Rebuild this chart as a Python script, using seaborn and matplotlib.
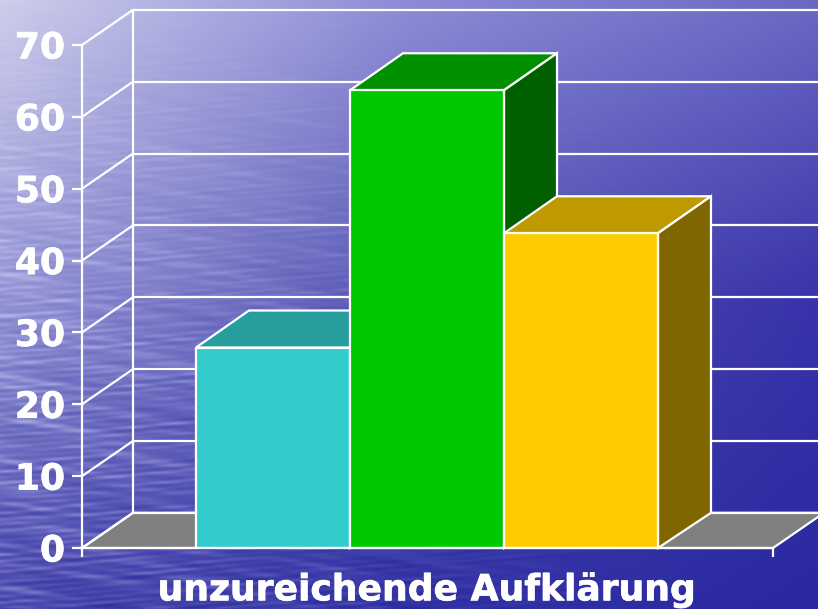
import numpy as np
import pandas as pd
import matplotlib
matplotlib.use('Agg')
import matplotlib.pyplot as plt
import matplotlib.patheffects as path_effects
from matplotlib.patches import Polygon
import seaborn as sns

# andmed
kategooria = ["unzureichende Aufklärung"]
seeriad = ["Reihe 1", "Reihe 2", "Reihe 3"]
vaartused = [27.9, 63.7, 43.8]
y_ticks = [0, 10, 20, 30, 40, 50, 60, 70]

# varvid: esikulg, pealmine, kulg
esi_varvid = ["#33cccc", "#00c800", "#ffcc00"]
peal_varvid = ["#269e9e", "#009000", "#bf9900"]
kulg_varvid = ["#1a6666", "#006000", "#806600"]

W, H = 818, 609
DEPTH_X = 53 / 154       # tulba sugavus x-teljel
DEPTH_X_WALL = 51 / 154  # tagaseina nihe
DEPTH_Y = 4.9            # 3D sugavus y-teljel
DEPTH_Y_TOP = 5.15       # tulba ulemine serv
VALGE = "white"
JOON = 1.6


def drawBackground(fig):
    # taust: sinine gradient ja vee moodi laigud
    bg = fig.add_axes([0, 0, 1, 1], zorder=0)
    x = np.arange(W) / (W - 1)
    y = np.arange(H) / (H - 1)
    xx, yy = np.meshgrid(x, y)
    grid_x = [0, 0.5, 1]
    grid_y = [0, 0.5, 1]
    nurgad = np.array([
        [[205, 205, 235], [140, 140, 215], [105, 105, 195]],
        [[150, 150, 215], [85, 85, 180], [55, 50, 170]],
        [[75, 75, 175], [50, 50, 165], [42, 40, 160]],
    ], dtype=float)
    img = np.zeros((H, W, 3))
    for c in range(3):
        rows = np.array([np.interp(x, grid_x, nurgad[r, :, c]) for r in range(3)])
        for col in range(W):
            img[:, col, c] = np.interp(y, grid_y, rows[:, col])
    px, py = xx * W, yy * H
    s = np.zeros_like(px)
    for fy, fx, faas in [(0.41, 0.047, 0.3), (0.67, 0.073, 1.9), (0.29, 0.037, 3.1),
                         (0.83, 0.101, 4.4), (0.53, 0.059, 5.2), (0.97, 0.087, 2.5)]:
        s += np.sin(py * fy + faas + 1.4 * np.sin(px * 0.019 + faas)) * np.sin(px * fx + py * 0.23 + faas * 2)
    s = np.where(s > 0, s * 1.3, s * 0.7)
    kaal = np.clip(1 - xx / 0.8, 0, 1) * np.clip(yy * 1.6 - 0.05, 0.05, 1)
    img = img + (s * 10 * kaal)[:, :, None] * np.array([1, 1, 0.6])
    bg.imshow(np.clip(img, 0, 255) / 255, aspect="auto", interpolation="bilinear")
    bg.set_axis_off()


def drawWalls(ax):
    x0, x1 = ax.get_xlim()
    dx, dy = DEPTH_X_WALL, DEPTH_Y
    # poranda hall tahk
    ax.add_patch(Polygon([(x0, 0), (x0 + dx, dy), (x1 + dx, dy), (x1, 0)], closed=True,
                         facecolor="#808080", edgecolor=VALGE, linewidth=JOON,
                         clip_on=False, zorder=1))
    for v in y_ticks:
        ax.plot([x0, x0 + dx], [v, v + dy], color=VALGE, lw=JOON, clip_on=False, zorder=2)
        ax.plot([x0 + dx, x1 + dx], [v + dy, v + dy], color=VALGE, lw=JOON, clip_on=False, zorder=2)
    ax.plot([x0 + dx, x0 + dx], [dy, y_ticks[-1] + dy], color=VALGE, lw=JOON, clip_on=False, zorder=2)


def drawBarFaces(ax):
    # igale tulbale pealmine ja kulgmine tahk
    dx, dy, dt = DEPTH_X, DEPTH_Y, DEPTH_Y_TOP
    tulbad = sorted([b for cont in ax.containers for b in cont if b.get_height() > 0],
                    key=lambda p: p.get_x())
    for i, bar in enumerate(tulbad):
        xa = bar.get_x()
        xb = xa + bar.get_width()
        h = bar.get_height()
        bar.set_zorder(3.5 + i)
        ax.add_patch(Polygon([(xa, h), (xa + dx, h + dt), (xb + dx, h + dt), (xb, h)], closed=True,
                             facecolor=peal_varvid[i], edgecolor=VALGE, linewidth=JOON,
                             clip_on=False, zorder=3 + i))
        ax.add_patch(Polygon([(xb, 0), (xb + dx, dy), (xb + dx, h + dt), (xb, h)], closed=True,
                             facecolor=kulg_varvid[i], edgecolor=VALGE, linewidth=JOON,
                             clip_on=False, zorder=3 + i))


def main():
    sns.set_style("white")
    plt.rcParams['font.family'] = ['DejaVu Sans']
    fig = plt.figure(figsize=(W / 100, H / 100), dpi=100)
    drawBackground(fig)

    # telg pikslites: x 82..773, y 45..548
    ax = fig.add_axes([82 / W, 1 - 548 / H, 691 / W, 503 / H], zorder=1)
    ax.patch.set_alpha(0)
    df = pd.DataFrame({
        "kategooria": kategooria * len(seeriad),
        "seeria": seeriad,
        "vaartus": vaartused,
    })
    sns.barplot(data=df, x="kategooria", y="vaartus", hue="seeria", palette=esi_varvid,
                width=3, saturation=1, edgecolor=VALGE, linewidth=JOON, legend=False, ax=ax)

    pool = 691 / 2 / 154
    nihe = 0.5 / 154  # pool pikslit vasakule
    ax.set_xlim(-pool + nihe, pool + nihe)
    ax.set_ylim(0, 70)
    ax.set_xlabel("")
    ax.set_ylabel("")
    ax.set_yticks(y_ticks)
    ax.set_yticklabels([str(v) for v in y_ticks], color=VALGE, fontsize=26, fontweight="bold")
    ax.set_xticks([0])
    ax.set_xticklabels(kategooria, color=VALGE, fontsize=26, fontweight="bold")
    ax.set_xticks([-pool + nihe, pool + nihe], minor=True)
    ax.tick_params(axis="y", left=True, length=7.2, width=JOON, color=VALGE, pad=5)
    ax.tick_params(axis="x", which="major", bottom=False, pad=14)
    ax.tick_params(axis="x", which="minor", bottom=True, length=6.5, width=JOON, color=VALGE)
    for lbl in ax.get_xticklabels() + ax.get_yticklabels():
        lbl.set_path_effects([path_effects.withStroke(linewidth=0.5, foreground=VALGE)])
    sns.despine(ax=ax, top=True, right=True)
    for side in ["left", "bottom"]:
        ax.spines[side].set_color(VALGE)
        ax.spines[side].set_linewidth(JOON)
        ax.spines[side].set_zorder(8)

    drawWalls(ax)
    drawBarFaces(ax)
    fig.savefig("out.png", dpi=100)


if __name__ == '__main__':
    main()
